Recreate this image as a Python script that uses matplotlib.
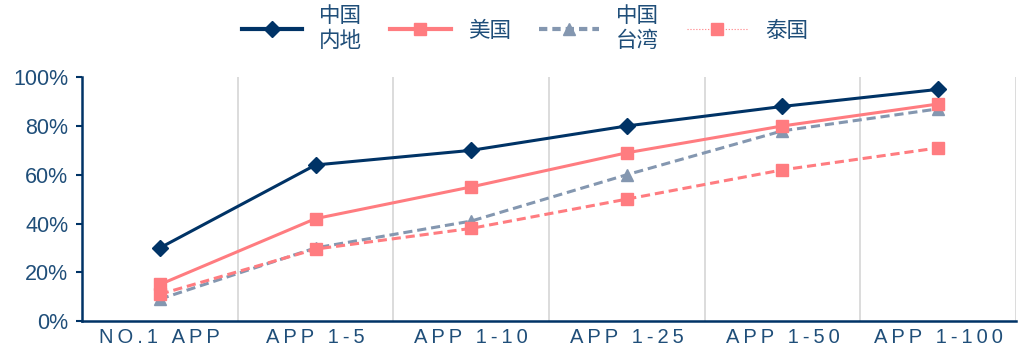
import matplotlib
matplotlib.use("Agg")
import matplotlib.pyplot as plt
from matplotlib.lines import Line2D
from matplotlib.ticker import FixedLocator, PercentFormatter

plt.rcParams['font.family'] = ['Liberation Sans', 'DejaVu Sans']

categories = ["NO.1 APP", "APP 1-5", "APP 1-10", "APP 1-25", "APP 1-50", "APP 1-100"]
mainland = [30, 64, 70, 80, 88, 95]
usa = [15, 42, 55, 69, 80, 89]
taiwan = [9, 30, 41, 60, 78, 87]
thailand = [11, 29.5, 38, 50, 62, 71]
names = ["中国\n内地", "美国", "中国\n台湾", "泰国"]

navy = "#003366"
salmon = "#FF7C80"
slate = "#8497B0"
txt = "#1F4E79"


def spaced(s):
    # wide tracking on the category labels
    return "\u2009".join(s)


fig, ax = plt.subplots(figsize=(10.19, 3.54), dpi=100)
fig.subplots_adjust(left=0.0805, right=0.997, bottom=0.093, top=0.782)

x = range(len(categories))
ax.plot(x, mainland, color=navy, lw=2.2, marker="D", ms=8, zorder=5)
ax.plot(x, usa, color=salmon, lw=2.2, marker="s", ms=9, zorder=4)
ax.plot(x, taiwan, color=slate, lw=2.2, ls=(0, (3, 1.6)), marker="^", ms=8, zorder=3)
ax.plot(x, thailand, color=salmon, lw=2.2, ls=(0, (3, 1.6)), marker="s", ms=9, zorder=3)

ax.set_xlim(-0.5, len(categories) - 0.5)
ax.set_ylim(0, 100)
ax.set_xticks(list(x))
ax.set_xticklabels([spaced(c) for c in categories])
ax.xaxis.set_minor_locator(FixedLocator([i + 0.5 for i in range(len(categories))]))
ax.grid(which="minor", axis="x", color="#D9D9D9", lw=1.3)
ax.tick_params(axis="x", which="both", length=0, labelsize=14.5, labelcolor=txt, pad=5)
ax.set_yticks(range(0, 101, 20))
ax.yaxis.set_major_formatter(PercentFormatter(decimals=0))
ax.tick_params(axis="y", length=4, width=1.5, color=navy, labelsize=15.5,
               labelcolor=txt, pad=6)

for s in ["top", "right"]:
    ax.spines[s].set_visible(False)
for s in ["left", "bottom"]:
    ax.spines[s].set_color(navy)
    ax.spines[s].set_linewidth(1.8)

handles = [
    Line2D([], [], color=navy, lw=3, marker="D", ms=8),
    Line2D([], [], color=salmon, lw=3, marker="s", ms=9),
    Line2D([], [], color=slate, lw=3, ls=(0, (2, 1.2)), marker="^", ms=8),
    Line2D([], [], color=salmon, lw=0.8, ls=":", marker="s", ms=9),
]
leg = fig.legend(handles, names, loc="upper center", bbox_to_anchor=(0.515, 1.04),
                 ncol=4, frameon=False, fontsize=15.5, handlelength=2.8,
                 columnspacing=1.3, handletextpad=0.8)
for t in leg.get_texts():
    t.set_color(txt)
    t.set_family(["Noto Sans CJK SC", "DejaVu Sans"])
    t.set_linespacing(1.15)

fig.savefig("out.png", dpi=100)
